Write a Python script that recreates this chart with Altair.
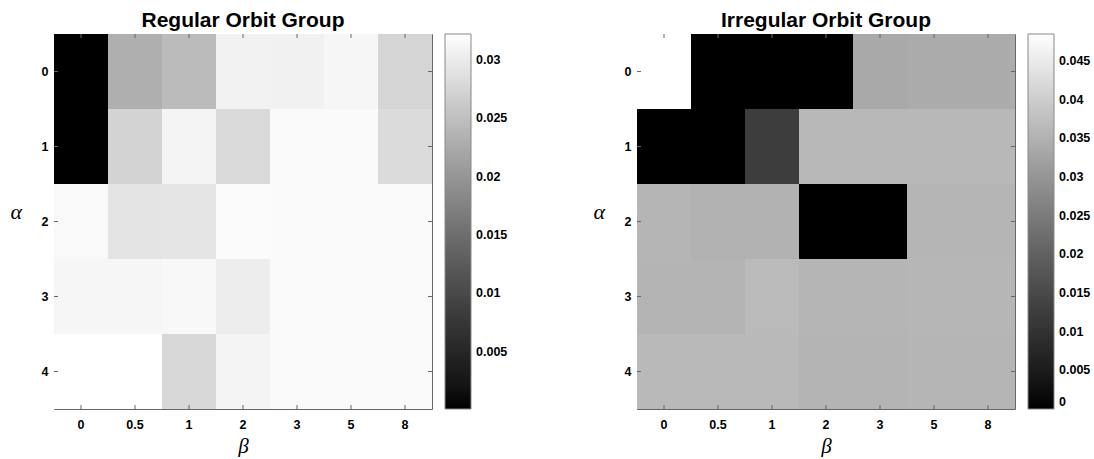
import altair as alt
import pandas as pd

beta = ["0", "0.5", "1", "2", "3", "5", "8"]
alpha = ["0", "1", "2", "3", "4"]

# Regular orbit group, one list per alpha row (beta order as above)
reg_a0 = [0.0001, 0.0230, 0.0245, 0.0308, 0.0306, 0.0312, 0.0275]
reg_a1 = [0.0001, 0.0272, 0.0310, 0.0280, 0.0317, 0.0317, 0.0282]
reg_a2 = [0.0315, 0.0292, 0.0293, 0.0318, 0.0317, 0.0317, 0.0317]
reg_a3 = [0.0312, 0.0312, 0.0314, 0.0302, 0.0316, 0.0316, 0.0315]
reg_a4 = [0.0322, 0.0322, 0.0278, 0.0310, 0.0317, 0.0317, 0.0317]

# Irregular orbit group
irr_a0 = [0.0485, 0.0, 0.0, 0.0, 0.0335, 0.0340, 0.0340]
irr_a1 = [0.0, 0.0, 0.0125, 0.0362, 0.0362, 0.0362, 0.0362]
irr_a2 = [0.0358, 0.0350, 0.0352, 0.0, 0.0, 0.0358, 0.0358]
irr_a3 = [0.0355, 0.0355, 0.0366, 0.0358, 0.0358, 0.0360, 0.0360]
irr_a4 = [0.0364, 0.0364, 0.0364, 0.0356, 0.0356, 0.0357, 0.0357]

reg_domain = [0.0001, 0.0322]
irr_domain = [0.0, 0.0485]
reg_ticks = [0.005, 0.01, 0.015, 0.02, 0.025, 0.03]
irr_ticks = [0.0, 0.005, 0.01, 0.015, 0.02, 0.025, 0.03, 0.035, 0.04, 0.045]


def to_df(rows):
    recs = []
    for a, row in zip(alpha, rows):
        for b, v in zip(beta, row):
            recs.append({"alpha": a, "beta": b, "value": v})
    return pd.DataFrame(recs)


reg_df = to_df([reg_a0, reg_a1, reg_a2, reg_a3, reg_a4])
irr_df = to_df([irr_a0, irr_a1, irr_a2, irr_a3, irr_a4])
beta_df = pd.DataFrame({"beta": beta})
alpha_df = pd.DataFrame({"alpha": alpha})

W, H = 378, 375
LABEL_FONT = "Liberation Sans"


def panel(df, title, domain, ticks):
    xs = alt.Scale(paddingInner=0, paddingOuter=0)
    ys = alt.Scale(paddingInner=0, paddingOuter=0)
    heat = alt.Chart(df).mark_rect().encode(
        x=alt.X("beta:N", sort=beta, scale=xs, title="β",
                axis=alt.Axis(labelAngle=0, ticks=False, domain=False,
                              labelFont=LABEL_FONT, labelFontSize=12.5,
                              labelFontWeight="bold", labelColor="#000",
                              labelPadding=9,
                              titleFont="Liberation Serif", titleFontSize=21,
                              titleFontStyle="italic", titleFontWeight="normal",
                              titleColor="#000", titlePadding=5)),
        y=alt.Y("alpha:N", sort=alpha, scale=ys, title="α",
                axis=alt.Axis(ticks=False, domain=False,
                              labelFont=LABEL_FONT, labelFontSize=12.5,
                              labelFontWeight="bold", labelColor="#000",
                              labelPadding=6,
                              titleFont="Liberation Serif", titleFontSize=22,
                              titleFontStyle="italic", titleFontWeight="normal",
                              titleColor="#000", titleAngle=0,
                              titleX=-44, titleY=184, titleAlign="left",
                              titleBaseline="alphabetic")),
        color=alt.Color("value:Q",
                        scale=alt.Scale(domain=domain, range=["#000000", "#ffffff"]),
                        title=None,
                        legend=alt.Legend(orient="none", legendX=W + 13, legendY=0,
                                          direction="vertical", type="gradient",
                                          gradientLength=H, gradientThickness=26,
                                          gradientStrokeColor="#888888",
                                          gradientStrokeWidth=1,
                                          values=ticks, format=".3~f",
                                          labelFont=LABEL_FONT, labelFontSize=12.5,
                                          labelFontWeight="bold", labelColor="#000",
                                          labelOffset=5, padding=0)),
    )
    tick_color = "#666666"
    xb = alt.Chart(beta_df).mark_rule(color=tick_color, strokeWidth=1).encode(
        x=alt.X("beta:N", sort=beta, bandPosition=0.5),
        y=alt.value(H - 4), y2=alt.value(H))
    xt = alt.Chart(beta_df).mark_rule(color=tick_color, strokeWidth=1).encode(
        x=alt.X("beta:N", sort=beta, bandPosition=0.5),
        y=alt.value(0), y2=alt.value(4))
    yl = alt.Chart(alpha_df).mark_rule(color=tick_color, strokeWidth=1).encode(
        y=alt.Y("alpha:N", sort=alpha, bandPosition=0.5),
        x=alt.value(0), x2=alt.value(4))
    yr = alt.Chart(alpha_df).mark_rule(color=tick_color, strokeWidth=1).encode(
        y=alt.Y("alpha:N", sort=alpha, bandPosition=0.5),
        x=alt.value(W - 4), x2=alt.value(W))
    return alt.layer(heat, xb, xt, yl, yr).properties(
        width=W, height=H,
        title=alt.TitleParams(title, font=LABEL_FONT, fontSize=21,
                              fontWeight="bold", color="#000", offset=3,
                              anchor="middle"),
    )


left = panel(reg_df, "Regular Orbit Group", reg_domain, reg_ticks)
right = panel(irr_df, "Irregular Orbit Group", irr_domain, irr_ticks)

chart = alt.hconcat(left, right, spacing=205, bounds="flush").resolve_scale(
    color="independent"
).properties(
    padding={"left": 9, "top": 9, "right": 0, "bottom": 0}
).configure_view(stroke="#666666", strokeWidth=1)

chart.save("out.html", embed_options={"renderer": "svg", "actions": False})
